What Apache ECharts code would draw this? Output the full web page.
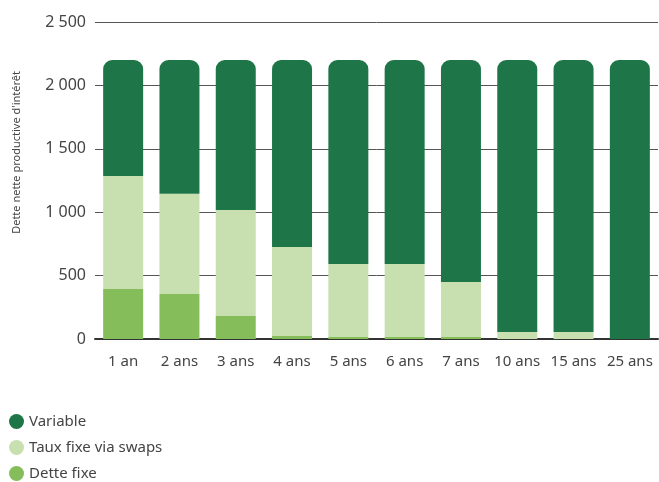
<!DOCTYPE html>
<html><head><meta charset="utf-8">
<script src="https://cdn.jsdelivr.net/npm/echarts@6/dist/echarts.min.js"></script>
<style>html,body{margin:0;padding:0;background:#fff}#c{width:659px;height:482px}</style>
</head><body><div id="c"></div>
<script>
const categories = ['1 an','2 ans','3 ans','4 ans','5 ans','6 ans','7 ans','10 ans','15 ans','25 ans'];
const detteFixe = [395,355,181,24,16,16,16,0,0,0];
const tauxSwaps = [890,791,836,702,575,575,434,55,55,0];
const variable = [915,1054,1183,1474,1609,1609,1750,2145,2145,2200];
const yTicks = [0,500,1000,1500,2000,2500];
const yTitle = "Dette nette productive d'intérêt";

const FONT = '"Noto Sans", "Open Sans", sans-serif';
const chart = echarts.init(document.getElementById('c'));
chart.setOption({
  animation:false,
  textStyle:{fontFamily:FONT},
  grid:{left:95,right:1,top:22,bottom:143,containLabel:false},
  graphic:[{
    type:'text', left:11, top:71, rotation:Math.PI/2,
    style:{text:yTitle, fontSize:11, fill:'#444', fontFamily:FONT}
  }],
  legend:{
    orient:'vertical', left:4, top:409, height:80, icon:'circle', itemWidth:15, itemHeight:15, itemGap:11,
    textStyle:{fontSize:15,color:'#444',fontFamily:FONT},
    data:['Variable','Taux fixe via swaps','Dette fixe']
  },
  xAxis:{
    type:'category', data:categories,
    axisLine:{show:true,lineStyle:{color:'#333',width:2}},
    axisTick:{show:false},
    axisLabel:{fontSize:15,color:'#444',margin:15,fontFamily:FONT,interval:0}
  },
  yAxis:{
    type:'value', min:0, max:2500, interval:500,
    axisLine:{show:false}, axisTick:{show:false},
    splitLine:{lineStyle:{color:'#555',width:1}},
    axisLabel:{fontSize:16,color:'#444',margin:9,fontFamily:FONT,
      formatter:v=>String(v).replace(/\B(?=(\d{3})+(?!\d))/g,' ')}
  },
  series:[
    {name:'Dette fixe',type:'bar',stack:'t',barWidth:40,data:detteFixe,itemStyle:{color:'#84bd5a'}},
    {name:'Taux fixe via swaps',type:'bar',stack:'t',barWidth:40,data:tauxSwaps,itemStyle:{color:'#c8dfb0'}},
    {name:'Variable',type:'bar',stack:'t',barWidth:40,data:variable,itemStyle:{color:'#1e7548',borderRadius:[9,9,0,0]}}
  ]
});
</script></body></html>
